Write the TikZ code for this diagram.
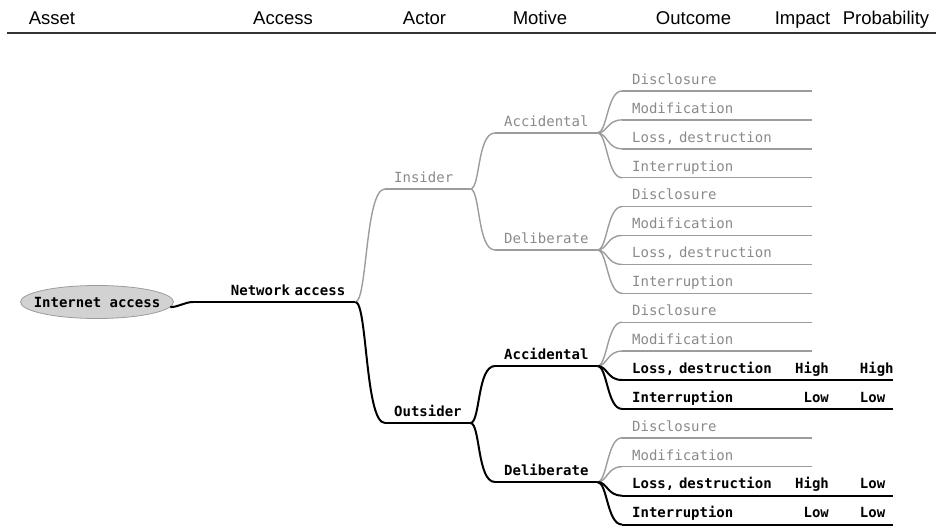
\documentclass[tikz,border=0pt]{standalone}
\usepackage{fontspec}
\setmainfont{Liberation Sans}
\newfontfamily\sketchfont{DejaVu Sans Mono}
\usetikzlibrary{shapes.geometric}

\definecolor{dimgrey}{HTML}{8A8A8A}
\definecolor{linegrey}{HTML}{9C9C9C}
\definecolor{bubblegrey}{HTML}{D2D2D2}

\begin{document}
\begin{tikzpicture}[
  x=1pt, y=-1pt,
  heading/.style={anchor=base, font=\fontsize{18.5}{20}\selectfont},
  bubble/.style={ellipse, draw=linegrey, thick, fill=bubblegrey, minimum width=153pt, minimum height=33pt, inner xsep=-20pt, inner ysep=0pt, font=\sketchfont\bfseries\fontsize{14}{16}\selectfont},
  topic/.style={anchor=south west, inner xsep=9pt, inner ysep=0pt, text height=10pt, text depth=6.5pt, align=left, text=dimgrey, font=\sketchfont\fontsize{14}{16}\selectfont},
  hot/.style={text=black, font=\sketchfont\bfseries\fontsize{14}{16}\selectfont},
  rating/.style={font=\sketchfont\bfseries\fontsize{14}{16}\selectfont},
  cold/.style={draw=linegrey, line width=1.4pt},
  live/.style={draw=black, line width=2pt},
  rule/.style={draw=black!80, line width=2.5pt}
]
\useasboundingbox (0,0) rectangle (936,527);

% Column headings
\node[heading] (h_asset) at (52,25) {Asset};
\node[heading] (h_access) at (283,25) {Access};
\node[heading] (h_actor) at (424.5,25) {Actor};
\node[heading] (h_motive) at (540,25) {Motive};
\node[heading] (h_outcome) at (693.5,25) {Outcome};
\node[heading] (h_impact) at (802.5,25) {Impact};
\node[heading] (h_prob) at (886,25) {Probability};
\draw[rule] (7,33) -- (936,33);

% Asset and access
\node[bubble] (asset) at (97,302) {Internet access};
\node[topic, hot, text width=142pt, inner xsep=10pt, align=right] (net) at (193,302) {Network access};

% Actors
\node[topic, text width=67pt] (ins) at (385,189) {Insider};
\node[topic, hot, text width=67pt] (out) at (385,423) {Outsider};

% Motives
\node[topic, text width=84pt] (insacc) at (495,133) {Accidental};
\node[topic, text width=84pt] (insdel) at (495,250) {Deliberate};
\node[topic, hot, text width=84pt] (outacc) at (495,366) {Accidental};
\node[topic, hot, text width=84pt] (outdel) at (495,482) {Deliberate};

% Outcomes
\foreach \m/\y in {insacc/91, insdel/206.6}
  \foreach \t [count=\k] in {Disclosure, Modification, {Loss, destruction}, Interruption}
    \node[topic, inner xsep=10pt, text width=170pt] (\m\k) at (622,\y+28.9*\k-28.9) {\t};
\foreach \m/\y in {outacc/322.2, outdel/437.8}
  \foreach \t [count=\k] in {Disclosure, Modification}
    \node[topic, inner xsep=10pt, text width=170pt] (\m\k) at (622,\y+28.9*\k-28.9) {\t};
\foreach \m/\y in {outacc/380, outdel/495.6} {
  \node[topic, hot, inner xsep=10pt, text width=251pt] (\m3) at (622,\y) {Loss, destruction};
  \node[topic, hot, inner xsep=10pt, text width=251pt] (\m4) at (622,\y+28.9) {Interruption};
}

% Impact and probability
\foreach \n/\i/\p in {outacc3/High/High, outacc4/Low/Low, outdel3/High/Low, outdel4/Low/Low} {
  \node[rating, anchor=base east, xshift=-61pt] (\n-imp) at (\n.base east) {\i};
  \node[rating, anchor=base west, xshift=-37pt] (\n-prob) at (\n.base east) {\p};
}

% Underlines
\foreach \n in {ins, insacc, insdel, insacc1, insacc2, insacc3, insacc4, insdel1, insdel2, insdel3, insdel4, outacc1, outacc2, outdel1, outdel2}
  \draw[cold] (\n.south west) -- (\n.south east);
\foreach \n in {net, out, outacc, outdel, outacc3, outacc4, outdel3, outdel4}
  \draw[live] (\n.south west) -- (\n.south east);

% Grey branches
\draw[cold] (net.south east) .. controls +(12,0) and +(-20,0) .. (ins.south west);
\foreach \c in {insacc, insdel}
  \draw[cold] (ins.south east) .. controls +(10,0) and +(-18,0) .. (\c.south west);
\foreach \p/\c in {insacc/insacc1, insacc/insacc2, insacc/insacc3, insacc/insacc4, insdel/insdel1, insdel/insdel2, insdel/insdel3, insdel/insdel4, outacc/outacc1, outacc/outacc2, outdel/outdel1, outdel/outdel2}
  \draw[cold] (\p.south east) .. controls +(10,0) and +(-15,0) .. (\c.south west);

% Highlighted branches
\draw[live] (asset.-4) .. controls +(8,0) and +(-8,0) .. (net.south west);
\draw[live] (net.south east) .. controls +(12,0) and +(-20,0) .. (out.south west);
\foreach \c in {outacc, outdel}
  \draw[live] (out.south east) .. controls +(10,0) and +(-18,0) .. (\c.south west);
\foreach \p/\c in {outacc/outacc3, outacc/outacc4, outdel/outdel3, outdel/outdel4}
  \draw[live] (\p.south east) .. controls +(10,0) and +(-15,0) .. (\c.south west);

\end{tikzpicture}
\end{document}
